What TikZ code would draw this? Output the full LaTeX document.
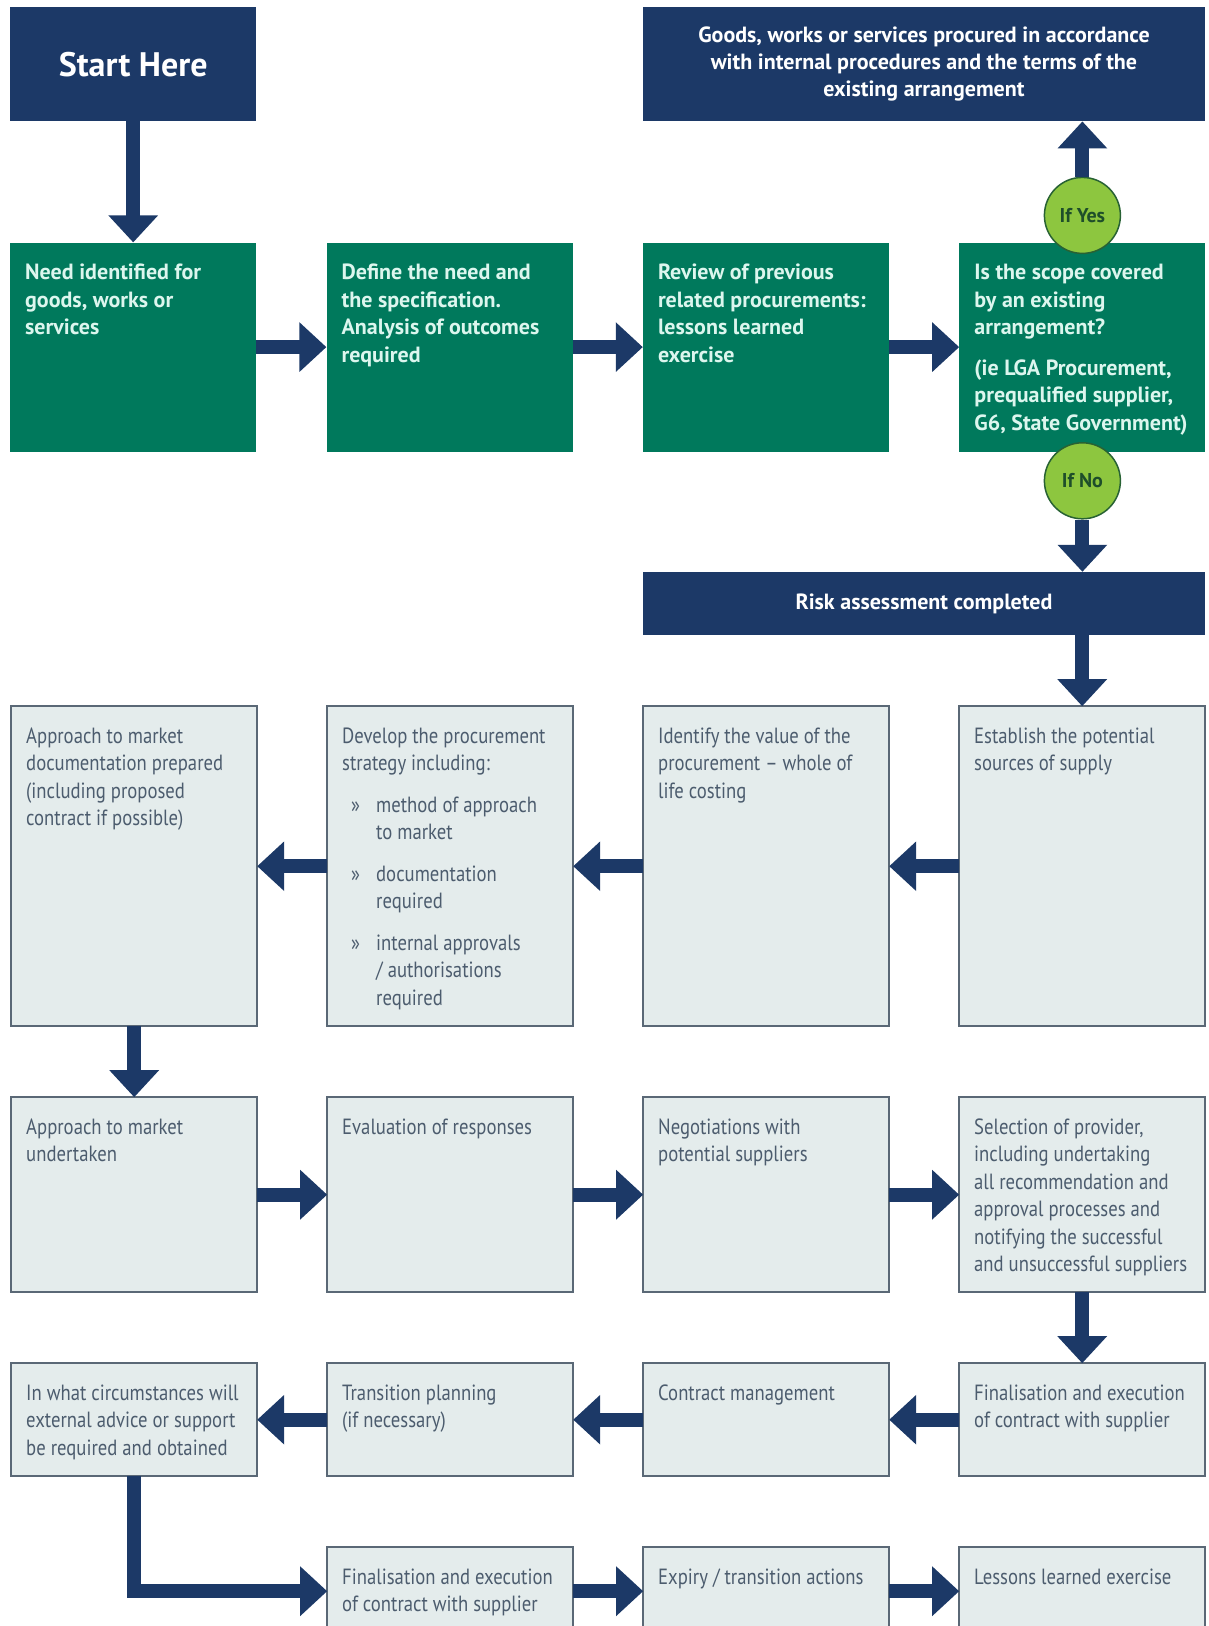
\documentclass[tikz,border=0pt]{standalone}
\usepackage{fontspec}
\setmainfont{PT Sans}
\newfontfamily\lightfont{PT Sans}[FakeStretch=0.85]
\usepackage{tikz}
\usetikzlibrary{positioning,arrows.meta}

\definecolor{navy}{RGB}{28,57,103}
\definecolor{procgreen}{RGB}{0,121,92}
\definecolor{greentext}{RGB}{220,246,238}
\definecolor{boxfill}{RGB}{228,236,236}
\definecolor{boxline}{RGB}{90,104,118}
\definecolor{boxtext}{RGB}{76,92,110}
\definecolor{choicefill}{RGB}{141,198,63}
\definecolor{choiceline}{RGB}{40,98,52}
\definecolor{choicetext}{RGB}{30,78,42}

% text in the top left corner of a box of the given height
\newcommand{\boxtxt}[2]{\parbox[t][\dimexpr#1-36pt\relax][t]{216pt}{\raggedright\strut#2}}
\newcommand{\bul}[1]{\par\vspace{14pt}\hangindent=34pt\hangafter=1\noindent\makebox[34pt][l]{\hspace{9pt}»}#1}

\tikzset{
  navybox/.style={rectangle,fill=navy,text=white,align=center,inner sep=0pt,
    font=\bfseries\fontsize{22}{27}\selectfont},
  greenbox/.style={rectangle,fill=procgreen,text=greentext,inner xsep=15pt,inner ysep=18pt,
    font=\bfseries\fontsize{22}{27.5}\selectfont},
  lightbox/.style={rectangle,draw=boxline,line width=1.5pt,fill=boxfill,text=boxtext,outer sep=0pt,
    inner xsep=15pt,inner ysep=18pt,font=\lightfont\fontsize{22}{27.5}\selectfont},
  choice/.style={circle,draw=choiceline,line width=1.5pt,fill=choicefill,text=choicetext,
    minimum size=76pt,inner sep=0pt,font=\bfseries\fontsize{20}{24}\selectfont},
  flowarrow/.style={draw=navy,line width=14pt,-{Triangle[width=48pt,length=27pt]}},
}

\begin{document}
\begin{tikzpicture}[x=1pt,y=1pt]
    \useasboundingbox (0,0) rectangle (1209,-1626);
    \clip (0,0) rectangle (1209,-1626);

    % top rows
    \node[navybox,minimum width=246pt,minimum height=114pt,anchor=north west,
      font=\bfseries\fontsize{34}{40}\selectfont] (start) at (10,-7) {Start Here};
    \node[greenbox,below=121pt of start] (need) {\boxtxt{209pt}{Need identified for\\goods, works or\\services}};
    \node[greenbox,right=70pt of need] (define) {\boxtxt{209pt}{Define the need and\\the specification.\\Analysis of outcomes\\required}};
    \node[greenbox,right=70pt of define] (review) {\boxtxt{209pt}{Review of previous\\related procurements:\\lessons learned\\exercise}};
    \node[greenbox,right=70pt of review] (scope) {\boxtxt{209pt}{Is the scope covered\\by an existing\\arrangement?\\[13pt](ie LGA Procurement,\\prequalified supplier,\\G6, State Government)}};
    \node[navybox,minimum width=562pt,minimum height=114pt,above right=121pt and 0pt of review.north west] (goods)
      {Goods, works or services procured in accordance\\with internal procedures and the terms of the\\existing arrangement};
    \node[choice] (yes) at ([yshift=27pt]scope.north) {If Yes};
    \node[choice] (no) at ([yshift=-29pt]scope.south) {If No};
    \node[navybox,minimum width=562pt,minimum height=63pt,below right=120pt and 0pt of review.south west] (risk)
      {Risk assessment completed};

    % light rows
    \node[lightbox,below left=71pt and 0pt of risk.south east] (establish) {\boxtxt{320pt}{Establish the potential\\sources of supply}};
    \node[lightbox,left=70pt of establish] (value) {\boxtxt{320pt}{Identify the value of the\\procurement – whole of\\life costing}};
    \node[lightbox,left=70pt of value] (strategy) {\boxtxt{320pt}{Develop the procurement\\strategy including:%
      \bul{method of approach\newline to market}\bul{documentation\newline required}\bul{internal approvals\newline / authorisations\newline required}}};
    \node[lightbox,left=70pt of strategy] (docprep) {\boxtxt{320pt}{Approach to market\\documentation prepared\\(including proposed\\contract if possible)}};

    \node[lightbox,below=71pt of docprep] (undertaken) {\boxtxt{195pt}{Approach to market\\undertaken}};
    \node[lightbox,right=70pt of undertaken] (evaluation) {\boxtxt{195pt}{Evaluation of responses}};
    \node[lightbox,right=70pt of evaluation] (negotiation) {\boxtxt{195pt}{Negotiations with\\potential suppliers}};
    \node[lightbox,right=70pt of negotiation] (selection) {\boxtxt{195pt}{Selection of provider,\\including undertaking\\all recommendation and\\approval processes and\\notifying the successful\\and unsuccessful suppliers}};

    \node[lightbox,below=71pt of selection] (finalise) {\boxtxt{113pt}{Finalisation and execution\\of contract with supplier}};
    \node[lightbox,left=70pt of finalise] (contract) {\boxtxt{113pt}{Contract management}};
    \node[lightbox,left=70pt of contract] (transition) {\boxtxt{113pt}{Transition planning\\(if necessary)}};
    \node[lightbox,left=70pt of transition] (advice) {\boxtxt{113pt}{In what circumstances will\\external advice or support\\be required and obtained}};

    \node[lightbox,below=71pt of transition] (final2) {\boxtxt{88pt}{Finalisation and execution\\of contract with supplier}};
    \node[lightbox,right=70pt of final2] (expiry) {\boxtxt{88pt}{Expiry / transition actions}};
    \node[lightbox,right=70pt of expiry] (lessons) {\boxtxt{88pt}{Lessons learned exercise}};

    % arrows
    \draw[flowarrow] (start) -- (need);
    \draw[flowarrow] (need) -- (define);
    \draw[flowarrow] (define) -- (review);
    \draw[flowarrow] (review) -- (scope);
    \draw[flowarrow] (yes) -- (yes |- goods.south);
    \draw[flowarrow] (no) -- (no |- risk.north);
    \draw[flowarrow] (risk.south -| establish) -- (establish);
    \draw[flowarrow] (establish) -- (value);
    \draw[flowarrow] (value) -- (strategy);
    \draw[flowarrow] (strategy) -- (docprep);
    \draw[flowarrow] (docprep) -- (undertaken);
    \draw[flowarrow] (undertaken) -- (evaluation);
    \draw[flowarrow] (evaluation) -- (negotiation);
    \draw[flowarrow] (negotiation) -- (selection);
    \draw[flowarrow] (selection) -- (finalise);
    \draw[flowarrow] (finalise) -- (contract);
    \draw[flowarrow] (contract) -- (transition);
    \draw[flowarrow] (transition) -- (advice);
    \draw[flowarrow,line join=miter] (advice) |- (final2);
    \draw[flowarrow] (final2) -- (expiry);
    \draw[flowarrow] (expiry) -- (lessons);
\end{tikzpicture}
\end{document}
